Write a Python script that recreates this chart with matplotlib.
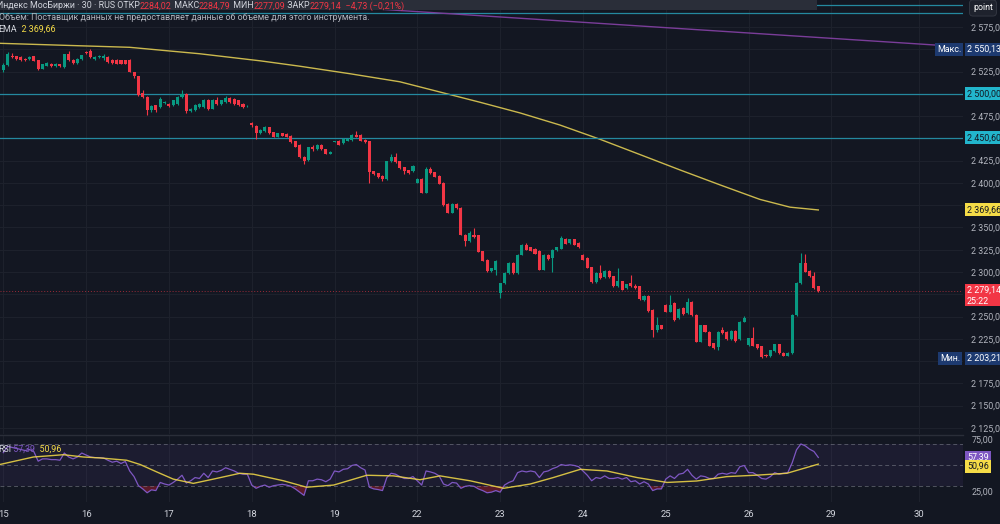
import numpy as np
import matplotlib.pyplot as plt
from matplotlib.patches import Rectangle
from matplotlib.lines import Line2D

plt.rcParams['font.family'] = ['Roboto', 'DejaVu Sans']

# IMOEX, 30-minute bars, 19 bars per session
day_labels = ['15', '16', '17', '18', '19', '22', '23', '24', '25', '26', '29', '30']
day_starts = [0, 19, 38, 57, 76, 95, 114, 133, 152, 171, 190, 210]

opens = [
    2526.5, 2532, 2543, 2542, 2541.5, 2539.5, 2539, 2542.3, 2537.7, 2528.3, 2531.7, 2534, 2531, 2533.2, 2530.2, 2544.5, 2538.5, 2534.7, 2539.2,
    2546.8, 2548.3, 2539, 2541, 2540.5, 2541.5, 2538.5, 2538.5, 2538, 2538, 2538.5, 2524.6, 2519.7, 2500.9, 2496.4, 2481.3, 2487, 2485, 2489.5,
    2488.8, 2487, 2488.8, 2496.4, 2499.4, 2480.2, 2482, 2485, 2485, 2493.4, 2483.2, 2493.4, 2488.8, 2490.7, 2495.6, 2494.5, 2492.6, 2488.8, 2485.8,
    2467, 2464.4, 2455.7, 2458, 2462.5, 2456.9, 2452, 2456, 2455, 2453, 2446.7, 2442.9, 2429.4, 2425.6, 2440.5, 2438, 2442.6, 2438, 2433,
    2446.3, 2447.5, 2444.8, 2447.5, 2448.2, 2454.2, 2454.2, 2448.2, 2446.7, 2412.9, 2410.6, 2408, 2404.2, 2424.1, 2428.6, 2424.1, 2417.4, 2414.4, 2412.9,
    2400.4, 2404.2, 2389.2, 2415.5, 2411.7, 2408, 2400.4, 2376, 2366.6, 2376.7, 2372.2, 2342, 2334.6, 2342, 2341.4, 2323.3, 2313.9, 2301.5, 2302.6,
    2276.3, 2287.6, 2298.9, 2310.1, 2298.9, 2319.6, 2330.1, 2327.8, 2326.3, 2324, 2302.6, 2319.6, 2315.8, 2324.4, 2326.3, 2337.6, 2332.7, 2336.5, 2332.7,
    2319.6, 2315.8, 2305.3, 2288.7, 2298.9, 2293.9, 2300.7, 2295, 2283.8, 2289.5, 2282, 2287.2, 2284.5, 2283.8, 2268.8, 2273.6, 2257.5, 2234.9, 2240.5,
    2263.1, 2255.6, 2265, 2248.1, 2260, 2253.7, 2266.9, 2251.8, 2221.7, 2240.5, 2233, 2219.8, 2216, 2234.9, 2233, 2224.7, 2233.8, 2224.7, 2244.3,
    2218, 2225.5, 2218.7, 2217, 2207, 2205.5, 2211, 2218.7, 2209, 2206, 2209, 2252, 2287.6, 2310, 2301, 2296, 2284.02,
]
highs = [
    2535, 2547, 2546, 2543, 2542, 2540.5, 2542, 2543, 2538.5, 2534, 2535.5, 2534.5, 2535, 2534, 2545, 2548, 2539, 2540, 2544,
    2547.5, 2550.13, 2543, 2544, 2545, 2542, 2539, 2539, 2538.5, 2538.5, 2539, 2525, 2520, 2503.9, 2497, 2487, 2488, 2496, 2492,
    2490, 2493.5, 2497, 2503.9, 2501, 2484, 2489, 2489.5, 2494, 2494, 2494, 2496.5, 2493.5, 2497, 2496.5, 2495, 2493, 2489.5, 2487,
    2468, 2465, 2461, 2464, 2463, 2457.5, 2456.5, 2456.5, 2455.5, 2453.5, 2447, 2443.5, 2430, 2440.5, 2442, 2443.5, 2443.5, 2438.5, 2436,
    2447.5, 2448, 2450, 2450, 2455, 2458.7, 2455, 2449, 2447.5, 2413.5, 2411, 2408.5, 2425, 2432, 2433.2, 2424.5, 2418, 2415, 2420,
    2405, 2405, 2418, 2418, 2412.5, 2408.5, 2401, 2377, 2377, 2377.5, 2373, 2343, 2346, 2349, 2342, 2324, 2314.5, 2305, 2313.5,
    2288, 2299.5, 2311, 2311, 2320.5, 2331, 2333, 2328.5, 2327, 2324.5, 2320.5, 2320.5, 2326, 2328.5, 2340, 2338.5, 2337, 2337, 2333.5,
    2320.5, 2316.5, 2306, 2299.5, 2308, 2302, 2302, 2295.5, 2304.5, 2290, 2287, 2297, 2286, 2284.5, 2274.5, 2274, 2258, 2250, 2241,
    2264, 2274.4, 2266, 2259.5, 2260.5, 2271.4, 2267.5, 2252.5, 2241, 2241, 2233.5, 2220.5, 2234, 2238.7, 2233.5, 2234.5, 2234.5, 2245, 2251,
    2226.5, 2238.7, 2219.5, 2217.5, 2208, 2213, 2219.5, 2219.5, 2210, 2210, 2253, 2288.5, 2321, 2320, 2302, 2300, 2284.79,
]
lows = [
    2525, 2531, 2540, 2538, 2537, 2537, 2538, 2536.5, 2527, 2527.5, 2531, 2530, 2530.5, 2530.5, 2529.5, 2537, 2534, 2534, 2538.5,
    2545, 2540, 2538, 2540, 2538, 2535, 2534, 2533.5, 2533.5, 2533.5, 2524, 2518, 2497, 2495, 2475.7, 2480, 2480, 2484, 2488.5,
    2485, 2486, 2488, 2495, 2479, 2479.5, 2481, 2484, 2484.5, 2482, 2482.5, 2488, 2488, 2490, 2490, 2488, 2486.5, 2484.5, 2485,
    2463, 2449.3, 2455, 2457, 2455, 2451, 2451.5, 2452.5, 2451.5, 2445, 2440, 2428, 2421, 2425, 2436, 2437.5, 2437.5, 2432.5, 2432.5,
    2445.5, 2442, 2444, 2447, 2447.5, 2451.5, 2447, 2445, 2400.4, 2409, 2405.5, 2402.3, 2403.5, 2423.5, 2422.5, 2416, 2410, 2410, 2412.5,
    2399.5, 2388.5, 2388.5, 2410, 2406.5, 2398.5, 2374.5, 2366, 2366, 2371, 2341, 2329, 2334, 2338.5, 2322, 2312, 2300, 2300.5, 2297,
    2270.6, 2286.5, 2298, 2298, 2298, 2319, 2324.5, 2323.5, 2320, 2302, 2302, 2314, 2300, 2324, 2325.5, 2331, 2332, 2330, 2327,
    2313, 2304, 2288, 2288, 2292.5, 2293.5, 2293.5, 2283, 2283, 2279.5, 2281.5, 2283, 2281, 2269, 2268, 2255.5, 2227.4, 2232.5, 2235.5,
    2255, 2255, 2245.5, 2247.5, 2252, 2253, 2251, 2221, 2221, 2232.5, 2216.5, 2214, 2213, 2230.5, 2224, 2224, 2222, 2224, 2243.5,
    2217, 2216.5, 2213.5, 2203.21, 2204.5, 2205, 2210.5, 2208.5, 2205.5, 2205.5, 2208.5, 2251, 2287, 2299.5, 2294.5, 2281.5, 2277.09,
]
closes = [
    2532, 2544.5, 2541, 2539.5, 2538.5, 2537.7, 2541.5, 2537, 2528.3, 2533.2, 2534.7, 2531, 2534, 2531, 2544.5, 2537.7, 2534.7, 2539.6, 2543.4,
    2545.3, 2540.8, 2541.5, 2542, 2542, 2535.8, 2534.7, 2534, 2534, 2534, 2524.6, 2519.7, 2498.3, 2496.4, 2481.3, 2485.8, 2482, 2494.5, 2491,
    2485.8, 2492.6, 2496.4, 2500.1, 2480.2, 2483.2, 2488, 2488.8, 2493.4, 2483.2, 2493.4, 2488.8, 2492.6, 2495.6, 2490.7, 2488.8, 2487, 2485, 2486.5,
    2464.5, 2455.7, 2459.5, 2463.3, 2455.7, 2452, 2455.7, 2453, 2452, 2445.6, 2440.7, 2428.6, 2424.9, 2439.9, 2438, 2442.6, 2438, 2433, 2435.2,
    2446.7, 2443, 2449.3, 2449.3, 2454.2, 2452, 2447.5, 2445.6, 2411.7, 2409.8, 2406.1, 2404.2, 2424.1, 2428.6, 2423, 2416.6, 2412.9, 2410.6, 2419.2,
    2404.2, 2389.2, 2415.5, 2410.6, 2407.2, 2399.3, 2375.2, 2366.6, 2376, 2371.5, 2342, 2334.6, 2344, 2339.1, 2322.6, 2312.8, 2300.7, 2304.5, 2312.8,
    2287.6, 2298.9, 2310.1, 2298.9, 2319.6, 2330.1, 2325.2, 2324.1, 2320.7, 2302.6, 2319.6, 2315, 2325.2, 2327.8, 2338.4, 2331.6, 2336.5, 2330.8, 2327.8,
    2313.9, 2304.5, 2288.7, 2298.9, 2293.2, 2301.5, 2294, 2283.8, 2290.2, 2280, 2286.4, 2283.8, 2282.5, 2270, 2273.6, 2256, 2234.9, 2240.5, 2236,
    2255.6, 2263.1, 2246.2, 2258.6, 2252.6, 2266.9, 2251.8, 2221.7, 2240.5, 2233, 2217.2, 2214.9, 2233, 2231.1, 2224.7, 2233.8, 2222.5, 2244.3, 2248.8,
    2225.5, 2217.2, 2214.2, 2205, 2205.5, 2212, 2218.7, 2209, 2206, 2209, 2252, 2287.6, 2310, 2300, 2295, 2282, 2279.14,
]

rsi = [
    62, 68, 67, 66, 65, 64, 65, 63, 53.8, 56, 56, 55.3, 55.3, 54.7, 61.6, 57.8, 56, 57.8, 61.6,
    59.7, 57.8, 57.2, 57.2, 56.9, 54.7, 52.8, 53.8, 51.6, 53.5, 44.4, 39, 30.3, 27.2, 23.5, 26.3, 25.6, 33.4, 31.9,
    30.9, 33.4, 36.6, 40.3, 32.8, 35, 38.1, 37.2, 42.2, 38.1, 44.4, 43.5, 45, 47.5, 46, 44.4, 42.2, 41.3, 41.3,
    30.9, 27.8, 29.7, 30.9, 28.8, 30.3, 30.9, 31.6, 30.9, 29.7, 27.2, 24.1, 21, 35, 35, 36.6, 36, 34.1, 36.6,
    44.4, 43.5, 46, 46.6, 49.7, 50.6, 47.5, 45.3, 28.8, 27.2, 26.6, 25.6, 38.1, 42.2, 41.3, 39, 37.2, 37.2, 39,
    35, 30.9, 44.4, 43.5, 42.2, 39.7, 31.9, 30.3, 33.4, 32.8, 27.8, 29.7, 30.3, 29.7, 27.2, 25.6, 23.5, 24.1, 25.6,
    24.1, 30.9, 33.4, 35, 42.8, 44.4, 43.5, 44.4, 43.5, 38.1, 43.5, 44.4, 46.6, 48.1, 50.6, 49.7, 50.3, 49.7, 48.5,
    44.4, 40.3, 35, 38.1, 37.2, 39.7, 37.2, 37.2, 38.1, 36.6, 38.1, 34.1, 35, 31.9, 34.1, 31.9, 25.6, 27.2, 27.2,
    36.6, 39.7, 37.2, 41.3, 42.2, 46, 40.3, 36.6, 39.7, 39, 37.2, 37.2, 41.3, 42.2, 41.3, 42.8, 42.2, 48.5, 49.7,
    42.8, 42.8, 40.3, 37.2, 36.6, 39, 42.8, 41.3, 42.2, 42.8, 52.2, 64.7, 70.3, 68.5, 65.3, 63.1, 57.39,
]
rsi_ma_x = [-0.8, 6.9, 13.8, 18.4, 22.2, 28.3, 31.4, 35.2, 39, 43.6, 48.2, 54.3, 57.4, 64.3, 69.6, 75.8,
            83.4, 89.5, 95.6, 100.2, 107.1, 114.8, 120.9, 126.2, 132.4, 138.5, 145.4, 152.3, 159.1, 166,
            172.9, 179.8, 187]
rsi_ma = [50.6, 57.8, 60, 57.8, 56.9, 54.7, 50.6, 43.5, 36.6, 32.5, 36.6, 42.2, 41.3, 35, 28.8, 30.9,
          40.3, 39.7, 36, 39.7, 35, 27.8, 31.9, 38.1, 46, 44.4, 38.1, 33.4, 34.8, 39,
          40.4, 42.2, 50.96]

ema_x = [-0.8, 29, 45, 59, 68, 79.6, 91, 100.2, 109.4, 118.6, 127.7, 136.9, 146.1, 155.3, 164.5, 173.6, 180.5, 187]
ema = [2556.7, 2552.2, 2545.0, 2537.0, 2531.0, 2522.5, 2513.5, 2502.0, 2490.5, 2478.5, 2465, 2449.0, 2431.8,
       2414.5, 2397.7, 2381.5, 2372.8, 2369.66]

level_lines = [2600.2, 2591.1, 2500.0, 2450.6]
trend_x = [53, 221]
trend_y = [2605.5, 2552.5]

price_max = 2550.13
price_min = 2203.21
ema_last = 2369.66
rsi_last = 57.39
rsi_ma_last = 50.96
last_close = 2279.14

BG = '#131722'
GRID = '#1e222d'
TXT = '#b2b5be'
LEG = '#d1d4dc'
UP = '#089981'
DOWN = '#f23645'
YEL = '#f5dc47'
PURP = '#7e57c2'
CYAN = '#22b5cc'
NAVY = '#1d3a70'
FS = 6.4

W, H = 1000, 524
fig = plt.figure(figsize=(W / 100, H / 100), dpi=100)
fig.patch.set_facecolor(BG)

ax = fig.add_axes([0, 1 - 434 / H, 963 / W, 434 / H])
ax2 = fig.add_axes([0, 1 - 502 / H, 963 / W, 67 / H], sharex=ax)
for a in (ax, ax2):
    a.set_facecolor(BG)
    a.set_axisbelow(True)
    for s in a.spines.values():
        s.set_visible(False)

# candles
x = np.arange(len(closes))
o, h, l, c = (np.array(v) for v in (opens, highs, lows, closes))
col = np.where(c >= o, UP, DOWN)
ax.vlines(x, l, h, colors=col, lw=0.8, zorder=3)
ax.bar(x, np.maximum(np.abs(c - o), 0.6), bottom=np.minimum(o, c), width=0.7,
       color=col, lw=0, zorder=4)

ax.plot(ema_x, ema, color='#cbb94e', lw=1.0, zorder=2)
for v in level_lines:
    ax.axhline(v, color='#2489a0', lw=0.9, zorder=2)
ax.plot(trend_x, trend_y, color='#7a3d99', lw=1.0, zorder=2)
ax.axhline(last_close, color=DOWN, lw=0.7, ls=(0, (1, 2)), alpha=0.6, zorder=2)

ax.set_xlim(-0.76, 220.2)
ax.set_ylim(2118.2, 2605.3)


def fmt(v):
    return f'{v:,.2f}'.replace(',', ' ').replace('.', ',')


# labels hidden behind price tags on the scale are left blank
hidden = {2600, 2550, 2500, 2450, 2375, 2275, 2200}
yt = np.arange(2125, 2601, 25)
ax.set_yticks(yt)
ax.set_yticklabels(['' if v in hidden else fmt(v) for v in yt])
ax.yaxis.tick_right()
ax.tick_params(axis='y', length=0, pad=6, labelsize=FS, labelcolor=TXT)
ax.tick_params(axis='x', length=0, labelbottom=False)
ax.grid(True, color=GRID, lw=0.7)

# RSI pane
ax2.set_ylim(14.65, 78.9)
ax2.axhspan(30, 70, color=PURP, alpha=0.09, lw=0)
for v in (70, 50, 30):
    ax2.axhline(v, color='#787b86', lw=0.7, ls=(0, (4, 3)), alpha=0.6)
r = np.array(rsi)
ax2.fill_between(x, r, 30, where=r < 30, interpolate=True, color='#6e1c2a', alpha=0.8, lw=0)
ax2.plot(x, r, color=PURP, lw=0.9)
ax2.plot(rsi_ma_x, rsi_ma, color=YEL, lw=1.0, alpha=0.85)
ax2.set_yticks([25, 75])
ax2.set_yticklabels(['25,00', '75,00'])
ax2.yaxis.tick_right()
ax2.tick_params(axis='y', length=0, pad=6, labelsize=FS, labelcolor=TXT)
ax2.set_xticks(day_starts)
ax2.set_xticklabels(day_labels)
ax2.tick_params(axis='x', length=0, pad=6, labelsize=6.8, labelcolor=LEG)
ax2.grid(True, axis='x', color=GRID, lw=0.7)

fig.add_artist(Line2D([0, 963 / W], [1 - 434.5 / H] * 2, color='#2a2e39', lw=1))

# top legend band
fig.patches.append(Rectangle((0, 1 - 10 / H), 817 / W, 10 / H, transform=fig.transFigure,
                             fc='#2a2e39', ec='none', zorder=1))


def fig_y(axis, v):
    return fig.transFigure.inverted().transform(axis.transData.transform((0, v)))[1]


def tag(axis, value, text, fc, tc, left=965, dy=0):
    fig.text((left + 2) / W, fig_y(axis, value) - dy / H, text, fontsize=FS, color=tc,
             va='center', ha='left', zorder=6,
             bbox=dict(boxstyle='square,pad=0.22', fc=fc, ec='none'))


tag(ax, price_max, 'Макс.', NAVY, 'white', left=935)
tag(ax, price_max, fmt(price_max), NAVY, 'white')
tag(ax, 2500.0, fmt(2500.0), CYAN, '#131722')
tag(ax, 2450.6, fmt(2450.6), CYAN, '#131722')
tag(ax, ema_last, fmt(ema_last), YEL, '#131722')
tag(ax, price_min, 'Мин.', NAVY, 'white', left=938)
tag(ax, price_min, fmt(price_min), NAVY, 'white')

yl = fig_y(ax, last_close)
fig.patches.append(Rectangle((965 / W, yl - 15.5 / H), 40 / W, 22 / H, transform=fig.transFigure,
                             fc=DOWN, ec='none', zorder=5))
fig.text(967 / W, yl, fmt(last_close), fontsize=FS, color='white', va='center', zorder=6)
fig.text(967 / W, yl - 10.5 / H, '25:22', fontsize=FS, color='white', va='center', zorder=6)

tag(ax2, rsi_last, fmt(rsi_last), PURP, 'white')
tag(ax2, rsi_ma_last, fmt(rsi_ma_last), YEL, '#131722', dy=2.5)

fig.text(973 / W, 1 - 8 / H, 'point', fontsize=FS, color='white', va='center', zorder=6,
         bbox=dict(boxstyle='round,pad=0.4', fc='#1e222d', ec='#363a45', lw=0.6))


def text_run(x0, y0, parts, size=FS):
    rend = fig.canvas.get_renderer()
    xp = x0
    for s, cc in parts:
        t = fig.text(xp / W, 1 - y0 / H, s, color=cc, fontsize=size, va='center', ha='left', zorder=7)
        xp += t.get_window_extent(rend).width


text_run(-3, 6, [('Индекс МосБиржи · 30 · RUS', LEG), (' ОТКР', LEG), ('2284,02', DOWN),
                 (' МАКС', LEG), ('2284,79', DOWN), (' МИН', LEG), ('2277,09', DOWN),
                 (' ЗАКР', LEG), ('2279,14', DOWN), ('  −4,73 (−0,21%)', DOWN)])
text_run(-1, 18, [('Объём: Поставщик данных не предоставляет данные об объеме для этого инструмента.', TXT)])
text_run(-2, 29.5, [('EMA', LEG), ('  ' + fmt(ema_last), YEL)])
text_run(-2, 449, [('RSI', LEG), (' ' + fmt(rsi_last), PURP), ('  ' + fmt(rsi_ma_last), YEL)])

fig.savefig('out.png', dpi=100, facecolor=BG)
